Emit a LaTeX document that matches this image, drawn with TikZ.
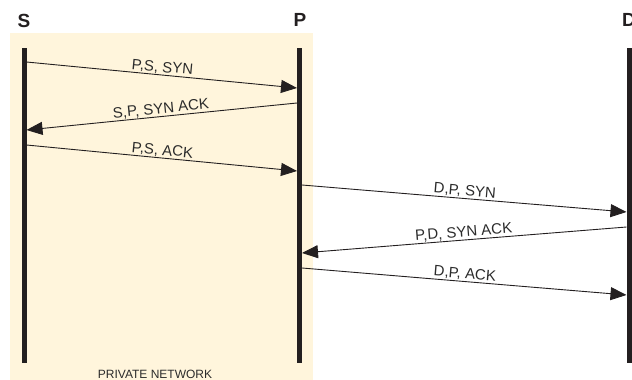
\documentclass[tikz,border=0pt]{standalone}
\usepackage{fontspec}
\setmainfont{Liberation Sans}
\usetikzlibrary{arrows.meta}
\definecolor{bgcream}{HTML}{FFF5DC}
\definecolor{lineblack}{HTML}{231F20}
\definecolor{txtgray}{HTML}{2B2B2B}
\begin{document}
\begin{tikzpicture}[x=1pt,y=-1pt,
  lifeline/.style={draw=lineblack,line width=5pt},
  msg/.style={draw=lineblack,line width=0.9pt,-{Triangle[length=16pt,width=13pt]}},
  msgback/.style={draw=lineblack,line width=0.9pt,{Triangle[length=16pt,width=13pt]}-},
  msglabel/.style={midway,sloped,anchor=south,inner sep=0.6pt,text=txtgray,font=\fontsize{15}{16}\selectfont},
  headlabel/.style={text=lineblack,font=\fontsize{19}{20}\selectfont\bfseries,inner sep=0pt}]
\useasboundingbox (0,0) rectangle (632,380);
\clip (0,0) rectangle (632,380);
% private network background
\fill[bgcream] (10,33) rectangle (313,380);
% headers
\node[headlabel] (Slab) at (24,21) {S};
\node[headlabel] (Plab) at (300,20) {P};
\node[headlabel,anchor=west] (Dlab) at (622,20) {D};
% lifelines
\coordinate (Stop) at (24,48);  \coordinate (Sbot) at (24,363);
\coordinate (Ptop) at (299.5,48); \coordinate (Pbot) at (299.5,363);
\coordinate (Dtop) at (629,48); \coordinate (Dbot) at (629,363);
\draw[lifeline] (Stop) -- (Sbot);
\draw[lifeline] (Ptop) -- (Pbot);
\draw[lifeline] (Dtop) -- (Dbot);
% message endpoints
\coordinate (s1) at (26.5,62);  \coordinate (p1) at (297,88);
\coordinate (s2) at (26.5,130); \coordinate (p2) at (297,103);
\coordinate (s3) at (26.5,145); \coordinate (p3) at (297,171);
\coordinate (p4) at (302,185);  \coordinate (d4) at (626.5,212);
\coordinate (p5) at (302,253);  \coordinate (d5) at (626.5,227);
\coordinate (p6) at (302,268);  \coordinate (d6) at (626.5,295);
% messages
\draw[msg] (s1) -- node[msglabel] {P,S, SYN} (p1);
\draw[msgback] (s2) -- node[msglabel] {S,P, SYN ACK} (p2);
\draw[msg] (s3) -- node[msglabel] {P,S, ACK} (p3);
\draw[msg] (p4) -- node[msglabel] {D,P, SYN} (d4);
\draw[msgback] (p5) -- node[msglabel] {P,D, SYN ACK} (d5);
\draw[msg] (p6) -- node[msglabel] {D,P, ACK} (d6);
% footer
\node[anchor=base,text=txtgray,inner sep=0pt,font=\fontsize{12}{12}\selectfont] (pn) at (155,378.5) {PRIVATE NETWORK};
\end{tikzpicture}
\end{document}
